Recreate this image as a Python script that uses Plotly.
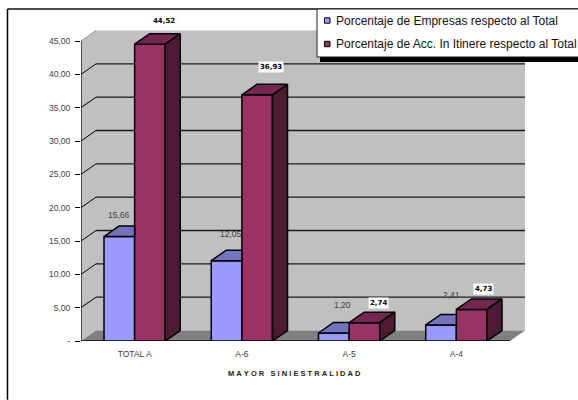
import plotly.graph_objects as go

categories = ["TOTAL A", "A-6", "A-5", "A-4"]
empresas = [15.66, 12.05, 1.20, 2.41]
accidentes = [44.52, 36.93, 2.74, 4.73]
empresas_text = ["15,66", "12,05", "1,20", "2,41"]
accidentes_text = ["44,52", "36,93", "2,74", "4,73"]
y_ticks = [0, 5, 10, 15, 20, 25, 30, 35, 40, 45]
y_tick_text = ["-", "5,00", "10,00", "15,00", "20,00", "25,00", "30,00", "35,00", "40,00", "45,00"]
name_empresas = "Porcentaje de Empresas respecto al Total"
name_accidentes = "Porcentaje de Acc. In Itinere respecto al Total"
x_title = "M\u00a0A\u00a0Y\u00a0O\u00a0R\u00a0\u00a0\u00a0S\u00a0I\u00a0N\u00a0I\u00a0E\u00a0S\u00a0T\u00a0R\u00a0A\u00a0L\u00a0I\u00a0D\u00a0A\u00a0D"

BLUE, BLUE_TOP = "#9999FF", "#7373BF"
MAROON, MAROON_TOP, MAROON_SIDE = "#993366", "#732650", "#4D1A33"
WALL, FLOOR = "#C0C0C0", "#808080"
TXT = "#404040"
FONT = "Liberation Sans"
W, H = 578, 400
L, R, T, B = 81, 525, 30, 341.3

DX = 0.14        # depth of the 3D box along x (category units)
DY = 1.575       # depth of the 3D box along y (value units)
X0, X1 = -0.5, 3.5
BW = 0.2855      # single bar width
YTOP = 46.65


def px(x):
    return (x - L) / (R - L)


def py(y):
    return (B - y) / (B - T)


fig = go.Figure()
idx = list(range(len(categories)))

fig.add_bar(x=idx, y=empresas, name=name_empresas, showlegend=False,
            marker=dict(color=BLUE, line=dict(color="black", width=1.5)))
fig.add_bar(x=idx, y=accidentes, name=name_accidentes, showlegend=False,
            marker=dict(color=MAROON, line=dict(color="black", width=1.5)))

line = dict(color="black", width=1.5)
for i in idx:
    # blue top, cut where the maroon front starts
    v = empresas[i]
    fig.add_scatter(x=[i - BW, i, i, i - BW + DX, i - BW], y=[v, v, v + DY, v + DY, v],
                    fill="toself", fillcolor=BLUE_TOP, mode="lines", line=line,
                    showlegend=False, hoverinfo="skip")
    v = accidentes[i]
    fig.add_scatter(x=[i, i + BW, i + BW + DX, i + DX, i], y=[v, v, v + DY, v + DY, v],
                    fill="toself", fillcolor=MAROON_TOP, mode="lines", line=line,
                    showlegend=False, hoverinfo="skip")
    fig.add_scatter(x=[i + BW, i + BW + DX, i + BW + DX, i + BW, i + BW], y=[0, DY, v + DY, v, 0],
                    fill="toself", fillcolor=MAROON_SIDE, mode="lines", line=line,
                    showlegend=False, hoverinfo="skip")

shapes = []
# back wall, side wall, floor
shapes.append(dict(type="rect", x0=X0 + DX, x1=X1 + DX, y0=DY, y1=45 + DY, fillcolor=WALL,
                   line=dict(width=0), layer="below"))
shapes.append(dict(type="path", path=f"M{X0},0 L{X0 + DX},{DY} L{X0 + DX},{45 + DY} L{X0},45 Z",
                   fillcolor=WALL, line=dict(width=0), layer="below"))
shapes.append(dict(type="path", path=f"M{X0},0 L{X1},0 L{X1 + DX},{DY} L{X0 + DX},{DY} Z",
                   fillcolor=FLOOR, line=dict(width=0), layer="below"))
# gridlines and their returns on the side wall
for v in y_ticks[1:]:
    if v < 45:
        shapes.append(dict(type="line", x0=X0 + DX, x1=X1 + DX, y0=v + DY, y1=v + DY,
                           line=dict(color="#1a1a1a", width=1.3), layer="below"))
    shapes.append(dict(type="line", x0=X0, x1=X0 + DX, y0=v, y1=v + DY,
                       line=dict(color="black" if v < 45 else "#999999", width=1), layer="below"))
# axis lines
shapes.append(dict(type="line", x0=X0, x1=X0, y0=0, y1=45, line=dict(color="black", width=1.2), layer="below"))
shapes.append(dict(type="line", x0=X0, x1=X1, y0=0, y1=0, line=dict(color="black", width=1.3), layer="below"))
# chart frame
shapes.append(dict(type="line", xref="paper", yref="paper", x0=px(7.5), x1=px(578), y0=py(9), y1=py(9),
                   line=dict(color="#111111", width=1.5)))
shapes.append(dict(type="line", xref="paper", yref="paper", x0=px(7.5), x1=px(7.5), y0=py(9), y1=py(400),
                   line=dict(color="black", width=1.5)))
# legend box with its shadow and keys
shapes.append(dict(type="rect", xref="paper", yref="paper", x0=px(320), x1=px(580), y0=py(53), y1=py(62),
                   fillcolor="black", line=dict(width=0)))
shapes.append(dict(type="rect", xref="paper", yref="paper", x0=px(317), x1=px(580), y0=py(9), y1=py(57),
                   fillcolor="white", line=dict(color="#222222", width=1)))
for yc, col in ((20.5, BLUE), (44, MAROON)):
    shapes.append(dict(type="rect", xref="paper", yref="paper", x0=px(324.5), x1=px(330), y0=py(yc - 2.7), y1=py(yc + 2.7),
                       fillcolor=col, line=dict(color="black", width=1)))

anns = []
# data labels: pixel nudges because the source places them by hand
for i, (v, t, sx, sy) in enumerate(zip(empresas, empresas_text, (0, 4.5, 8.5, 10), (22, 27, 28, 30))):
    anns.append(dict(x=i - BW / 2, y=v, text=t, showarrow=False, xshift=sx, yshift=sy,
                     font=dict(family=FONT, size=8.5, color=TXT)))
for i, (v, t, sx, sy) in enumerate(zip(accidentes, accidentes_text, (14, 13.5, 14, 12), (23, 28, 20, 20))):
    anns.append(dict(x=i + BW / 2, y=v, text=t, showarrow=False, xshift=sx, yshift=sy, bgcolor="white",
                     font=dict(family="DejaVu Sans", size=7, color="black", weight="bold"), borderpad=1))
anns.append(dict(xref="paper", yref="paper", x=px(294.5), y=py(374), xanchor="center", yanchor="middle",
                 text=x_title, showarrow=False,
                 font=dict(family=FONT, size=7.5, color="#222222", weight="bold")))
for yc, name in ((20.5, name_empresas), (44, name_accidentes)):
    anns.append(dict(xref="paper", yref="paper", x=px(335), y=py(yc), xanchor="left", yanchor="middle",
                     text=name, showarrow=False, xshift=-1,
                     font=dict(family=FONT, size=12, color="#111111")))

fig.update_layout(
    width=W, height=H,
    margin=dict(l=L, r=W - R, t=T, b=H - B, pad=0),
    paper_bgcolor="white", plot_bgcolor="white",
    barmode="group", bargap=1 - 2 * BW, bargroupgap=0,
    showlegend=False,
    shapes=shapes, annotations=anns,
    font=dict(family=FONT, size=8.5, color=TXT),
    xaxis=dict(range=[X0, X1 + DX], tickmode="array", tickvals=idx, ticktext=categories,
               showgrid=False, zeroline=False, showline=False, ticks="",
               tickfont=dict(family=FONT, size=8.5, color=TXT), ticklabelstandoff=6),
    yaxis=dict(range=[0, YTOP], tickmode="array", tickvals=y_ticks, ticktext=y_tick_text,
               showgrid=False, zeroline=False, showline=False, ticks="outside", ticklen=5, tickwidth=1,
               tickcolor="black", tickfont=dict(family=FONT, size=8.5, color=TXT), ticklabelstandoff=3),
)

fig.write_html("out.html", config={"displayModeBar": False}, post_script="document.body.style.margin='0';")
